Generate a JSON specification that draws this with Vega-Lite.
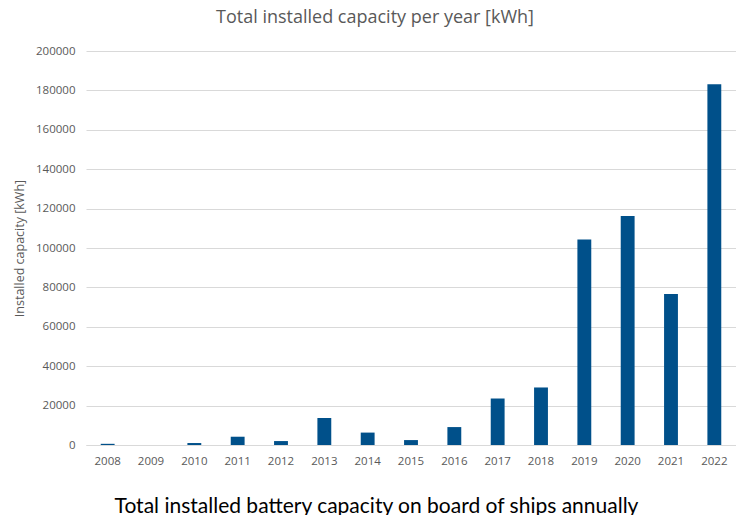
{
  "$schema": "https://vega.github.io/schema/vega-lite/v6.json",
  "autosize": "none",
  "width": 650,
  "height": 394,
  "padding": {"left": 86, "top": 51, "right": 0, "bottom": 70},
  "background": "white",
  "title": {
    "text": "Total installed capacity per year [kWh]",
    "font": "Open Sans",
    "fontSize": 18,
    "fontWeight": "normal",
    "color": "#595959",
    "anchor": "middle",
    "dx": -36,
    "offset": 18
  },
  "data": {
    "values": [
      {"year": "2008", "capacity": 600},
      {"year": "2009", "capacity": 0},
      {"year": "2010", "capacity": 1000},
      {"year": "2011", "capacity": 4200},
      {"year": "2012", "capacity": 2000},
      {"year": "2013", "capacity": 13700},
      {"year": "2014", "capacity": 6300},
      {"year": "2015", "capacity": 2500},
      {"year": "2016", "capacity": 9100},
      {"year": "2017", "capacity": 23600},
      {"year": "2018", "capacity": 29200},
      {"year": "2019", "capacity": 104300},
      {"year": "2020", "capacity": 116300},
      {"year": "2021", "capacity": 76600},
      {"year": "2022", "capacity": 183100}
    ]
  },
  "mark": {"type": "bar", "color": "#00508a"},
  "encoding": {
    "x": {
      "field": "year",
      "type": "ordinal",
      "scale": {"paddingInner": 0.68, "paddingOuter": 0.34},
      "axis": {
        "title": "Total installed battery capacity on board of ships annually",
        "titleFont": "Lato",
        "titleFontSize": 21,
        "titleFontWeight": "normal",
        "titleColor": "#000000",
        "titleX": 290,
        "titleY": 67,
        "titleBaseline": "alphabetic",
        "labelAngle": 0,
        "labelFont": "Open Sans",
        "labelFontSize": 11.5,
        "labelColor": "#595959",
        "labelPadding": 10,
        "ticks": false,
        "domain": true,
        "domainColor": "#d9d9d9",
        "domainWidth": 1
      }
    },
    "y": {
      "field": "capacity",
      "type": "quantitative",
      "scale": {"domain": [0, 200000]},
      "axis": {
        "title": "Installed capacity [kWh]",
        "titleFont": "Open Sans",
        "titleFontSize": 12.5,
        "titleFontWeight": "normal",
        "titleColor": "#595959",
        "titlePadding": 9,
        "values": [0, 20000, 40000, 60000, 80000, 100000, 120000, 140000, 160000, 180000, 200000],
        "format": "d",
        "labelFont": "Open Sans",
        "labelFontSize": 11.5,
        "labelColor": "#595959",
        "labelPadding": 11,
        "ticks": false,
        "domain": false,
        "grid": true,
        "gridColor": "#d9d9d9",
        "gridWidth": 1
      }
    }
  },
  "config": {"view": {"stroke": null}}
}
